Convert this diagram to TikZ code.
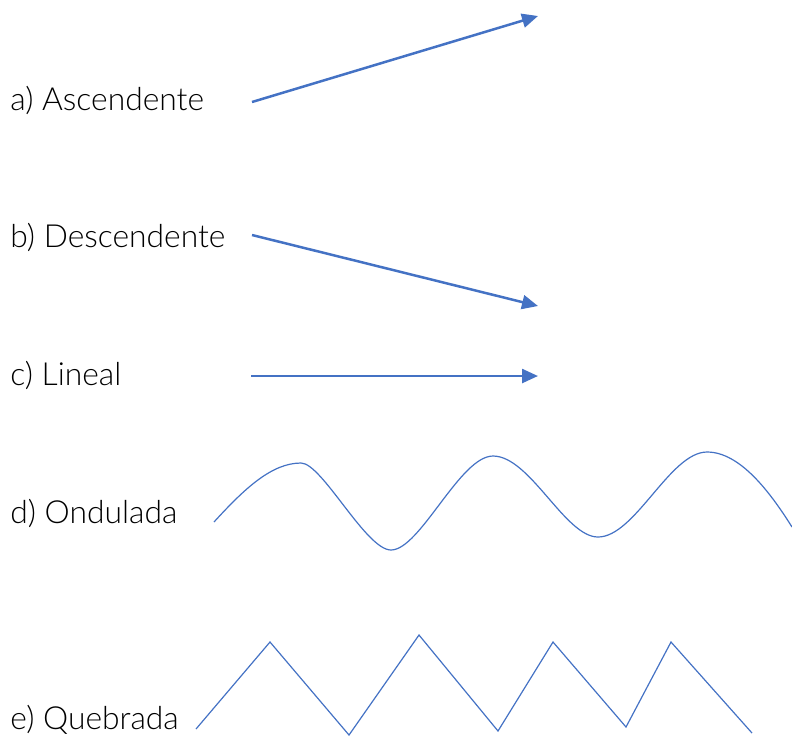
\documentclass[tikz,border=0pt]{standalone}
\usepackage{fontspec}
\IfFontExistsTF{Lato Light}{\setmainfont{Lato Light}}{\setmainfont{Lato}}
\usepackage{xcolor}
\usetikzlibrary{arrows.meta}
\definecolor{lineblue}{RGB}{68,114,196}

\begin{document}
\begin{tikzpicture}[x=0.5pt, y=-0.5pt,
  label/.style={anchor=base west, inner sep=0pt, font=\fontsize{15.9}{18}\selectfont},
  arrowline/.style={lineblue, line width=1.25pt, -{Triangle[length=8pt,width=7pt]}},
  thinline/.style={lineblue, line width=0.6pt, line join=miter}]
  % Fix the page size
  \useasboundingbox (0,0) rectangle (792,736);

  % Labels
  \node[label] (asc) at (10,110) {a) Ascendente};
  \node[label] (desc) at (10,247) {b) Descendente};
  \node[label] (lin) at (10,385) {c) Lineal};
  \node[label] (ond) at (10,523) {d) Ondulada};
  \node[label] (queb) at (10,729) {e) Quebrada};

  % Arrow ends
  \coordinate (ascA) at (252,102);
  \coordinate (ascB) at (538,16);
  \coordinate (descA) at (252,235);
  \coordinate (descB) at (538,306);
  \coordinate (linA) at (251,376);
  \coordinate (linB) at (538,376);

  \draw[arrowline] (ascA) -- (ascB);
  \draw[arrowline] (descA) -- (descB);
  \draw[arrowline] (linA) -- (linB);

  % Wavy line
  \draw[thinline] (214,522) .. controls (245,488) and (272,463) .. (301,463)
    .. controls (322,463) and (366,550) .. (391,550)
    .. controls (420,550) and (460,456) .. (493,456)
    .. controls (530,456) and (565,537) .. (598,537)
    .. controls (635,537) and (670,452) .. (707,452)
    .. controls (740,452) and (770,492) .. (792,527);

  % Broken line
  \draw[thinline] (196,729) -- (270,642) -- (349,735) -- (419,635) -- (498,731)
    -- (553,642) -- (626,727) -- (671,642) -- (752,733);
\end{tikzpicture}
\end{document}
